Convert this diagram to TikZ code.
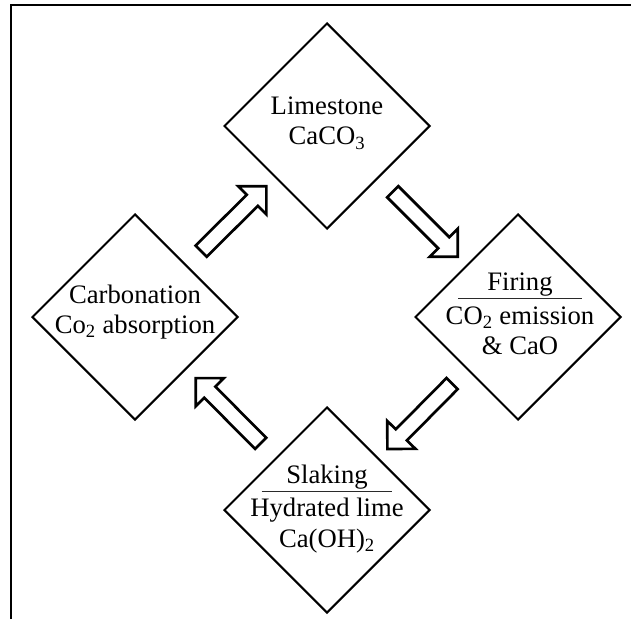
\documentclass[tikz,border=0pt]{standalone}
\usepackage{fontspec}
\setmainfont{Liberation Serif}
\usetikzlibrary{
  calc,
  shapes.arrows,
  shapes.geometric
}
\definecolor{inkC}{HTML}{000000}
\definecolor{paperC}{HTML}{FFFFFF}
\definecolor{ruleC}{HTML}{2A2A2A}

\tikzset{
  stage/.style={
    diamond,
    draw=inkC,
    fill=paperC,
    line width=1.5pt,
    minimum size=154.5pt,
    inner sep=0pt
  },
  stagetext/.style={
    align=center,
    text=inkC,
    inner sep=0pt,
    font=\fontsize{20}{23}\selectfont
  },
  flow/.style={
    single arrow,
    draw=inkC,
    fill=paperC,
    line width=2pt,
    minimum height=69pt,
    inner sep=4.9pt,
    single arrow head extend=9pt,
    single arrow tip angle=90,
    sloped,
    allow upside down
  }
}

\begin{document}
\begin{tikzpicture}[
  x=0.75pt,
  y=0.75pt,
  line cap=butt,
  line join=miter
]

\useasboundingbox (0,0) rectangle (631,619);

% Page frame (top and left edge only).
\draw[inkC, line width=1.5pt] (11,0) -- (11,614) -- (631,614);

% The four stages of the lime cycle.
\node[stage] (lime)  at (327,493) {};
\node[stage] (carb)  at (135,302) {};
\node[stage] (fire)  at (518,302) {};
\node[stage] (slake) at (327,109) {};

\node[stagetext] (limeT) at ($(lime)+(0,3)$) {Limestone\\CaCO\textsubscript{3}};
\node[stagetext] (carbT) at ($(carb)+(0,5)$) {Carbonation\\Co\textsubscript{2} absorption};
\node[stagetext] (fireT) at ($(fire)+(2,3)$)
  {Firing\\[-16.5pt]\textcolor{ruleC}{\rule{93pt}{0.9pt}}\hspace*{9pt}\\[-4.3pt]%
   CO\textsubscript{2} emission\\\& CaO};
\node[stagetext] (slakeT) at ($(slake)+(0,1)$)
  {Slaking\\[-16.5pt]\textcolor{ruleC}{\rule{98pt}{0.9pt}}\hspace*{15pt}\\[-4.3pt]%
   Hydrated lime\\Ca(OH)\textsubscript{2}};

% Hollow block arrows between the stages.
\foreach \a/\b in {carb/lime, lime/fire, fire/slake, slake/carb}{
  \path (\a) -- node[flow] (flow-\a) {} (\b);
}

\end{tikzpicture}
\end{document}
